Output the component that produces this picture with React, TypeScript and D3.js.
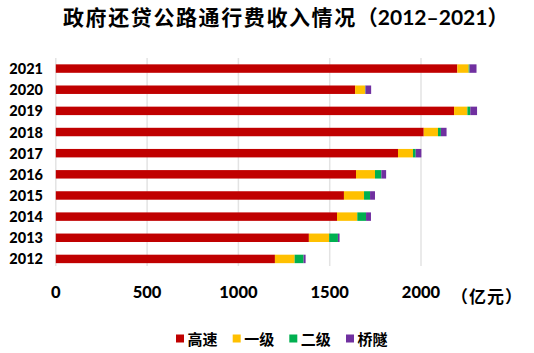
import React from "react";
import * as d3 from "d3";

const years = ["2021", "2020", "2019", "2018", "2017", "2016", "2015", "2014", "2013", "2012"];
const seriesNames = ["高速", "一级", "二级", "桥隧"];
const gaosu = [2199, 1639, 2181, 2015, 1874, 1644, 1578, 1540, 1386, 1200];
const yiji = [62, 55, 73, 78, 82, 104, 110, 111, 111, 108];
const erji = [5, 2, 16, 16, 15, 35, 33, 48, 48, 49];
const qiaosui = [38, 31, 37, 31, 31, 26, 27, 27, 9, 11];
const xTicks = [0, 500, 1000, 1500, 2000];
const colors = ["#C00000", "#FFC000", "#00B050", "#7030A0"];

const W = 534;
const H = 353;
const FONT = "Lato, 'Noto Sans CJK SC', sans-serif";
const CJK = "'Noto Sans CJK SC', sans-serif";

export default function App() {
  const x = d3.scaleLinear().domain([0, 2000]).range([55.8, 421]);
  const y = d3
    .scaleBand<string>()
    .domain(years)
    .range([58, 269.5])
    .paddingInner(0.6)
    .paddingOuter(0.3);

  const rows = years.map((yr, i) => ({
    year: yr,
    "高速": gaosu[i],
    "一级": yiji[i],
    "二级": erji[i],
    "桥隧": qiaosui[i],
  }));
  const stacked = d3.stack<any>().keys(seriesNames)(rows);

  const legendX = [176, 232.7, 289.3, 346];

  return (
    <div style={{ position: "fixed", left: 0, top: 0, width: W, height: H, overflow: "hidden" }}>
      <svg width={W} height={H} style={{ display: "block", background: "#fff" }}>
        <text
          x={63}
          y={25}
          fontFamily={FONT}
          fontWeight="bold"
          fontSize={21}
          fill="#000"
        >
          <tspan letterSpacing={1.6}>政府还贷公路通行费收入情况</tspan>
          <tspan fontFamily={CJK}>（</tspan>
          <tspan>2012–2021</tspan>
          <tspan fontFamily={CJK}>）</tspan>
        </text>
        {xTicks.map((t) => (
          <line
            key={t}
            x1={x(t)}
            x2={x(t)}
            y1={58}
            y2={266}
            stroke="#e3e3e3"
            strokeWidth={1.5}
          />
        ))}
        {stacked.map((s, si) =>
          s.map((d, di) => (
            <rect
              key={si + "-" + di}
              x={x(d[0])}
              y={y(years[di])!}
              width={Math.max(0, x(d[1]) - x(d[0]))}
              height={y.bandwidth()}
              fill={colors[si]}
            />
          ))
        )}
        {years.map((yr) => (
          <text
            key={yr}
            x={43}
            y={y(yr)! + y.bandwidth() / 2 + 5.5}
            textAnchor="end"
            fontFamily={FONT}
            fontWeight="900"
            fontSize={14.5}
            fill="#000"
          >
            {yr}
          </text>
        ))}
        {xTicks.map((t) => (
          <text
            key={t}
            x={x(t)}
            y={297.5}
            textAnchor="middle"
            fontFamily={FONT}
            fontWeight="900"
            fontSize={16.5}
            fill="#000"
          >
            {t}
          </text>
        ))}
        <text
          x={451}
          y={303}
          fontWeight="bold"
          fontSize={17}
          letterSpacing={1}
          fill="#000"
          fontFamily={CJK}
        >
          （亿元）
        </text>
        {seriesNames.map((n, i) => (
          <g key={n}>
            <rect x={legendX[i]} y={334.5} width={8} height={8} fill={colors[i]} />
            <text
              x={legendX[i] + 11.5}
              y={339}
              dy="0.38em"
              fontFamily={CJK}
              fontWeight="bold"
              fontSize={15}
              fill="#000"
            >
              {n}
            </text>
          </g>
        ))}
      </svg>
    </div>
  );
}
